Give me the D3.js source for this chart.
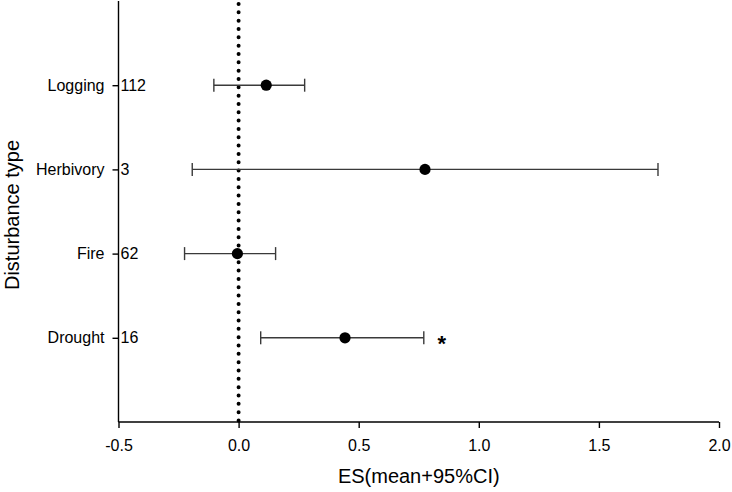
<!DOCTYPE html>
<html>
<head>
<meta charset="utf-8">
<script src="https://cdn.jsdelivr.net/npm/d3@7"></script>
<style>
    body { margin: 0; background: #fff; }
    .chart { width: 732px; height: 492px; }
    text { font-family: "Liberation Sans", Arial, sans-serif; fill: #000; }
</style>
</head>
<body>
<div class="chart"></div>
<script>
// disturbance types, top to bottom
let categories = ["Logging", "Herbivory", "Fire", "Drought"];
let counts = ["112", "3", "62", "16"];
let means = [0.115, 0.776, -0.005, 0.443];
let ciLow = [-0.103, -0.193, -0.225, 0.092];
let ciHigh = [0.275, 1.746, 0.154, 0.771];
let signif = ["", "", "", "*"];
let xTicks = [-0.5, 0.0, 0.5, 1.0, 1.5, 2.0];

let chart = {};

chart.data = categories.map((c, i) => {
    return {
        name: c,
        n: counts[i],
        mean: means[i],
        low: ciLow[i],
        high: ciHigh[i],
        sig: signif[i],
        pos: categories.length - i
    };
});

chart.margin = { left: 118.5, top: 1, right: 13, bottom: 70 };
chart.width = 732 - chart.margin.left - chart.margin.right;
chart.height = 492 - chart.margin.top - chart.margin.bottom;

chart.xScale = d3.scaleLinear()
    .domain([-0.5, 2.0])
    .range([0, 600.5]);

chart.yScale = d3.scaleLinear()
    .domain([0, 5])
    .range([chart.height, 0]);

chart.svg = d3.select(".chart").append("svg")
    .attr("width", 732)
    .attr("height", 492);

chart.plot = chart.svg.append("g")
    .attr("transform", `translate(${chart.margin.left},${chart.margin.top})`);

// zero reference line (dotted)
chart.plot.append("line")
    .attr("x1", chart.xScale(0)).attr("x2", chart.xScale(0))
    .attr("y1", 3).attr("y2", chart.height)
    .attr("stroke", "#000")
    .attr("stroke-width", 4)
    .attr("stroke-linecap", "round")
    .attr("stroke-dasharray", "0,8.33");

// x axis - plain hyphen for negatives, like the original
chart.xAxis = chart.plot.append("g")
    .attr("transform", `translate(0,${chart.height})`)
    .call(d3.axisBottom(chart.xScale)
        .tickValues(xTicks)
        .tickSize(6)
        .tickPadding(12)
        .tickFormat(d => d.toFixed(1)));

chart.xAxis.select(".domain").attr("d", `M0,0H${chart.xScale(2.0)}`);

// y axis
chart.yAxis = chart.plot.append("g")
    .call(d3.axisLeft(chart.yScale)
        .tickValues(chart.data.map(d => d.pos))
        .tickSize(6)
        .tickPadding(8)
        .tickFormat((d, i) => categories[i]));

chart.yAxis.select(".domain").attr("d", `M0,0V${chart.height}`);

chart.svg.selectAll(".domain, .tick line")
    .attr("stroke", "#000")
    .attr("stroke-width", 1.4);

chart.svg.selectAll(".tick text")
    .style("font-size", "16px")
    .style("font-family", "'Liberation Sans', Arial, sans-serif")
    .attr("fill", "#000");

// sample sizes next to the y axis
chart.plot.selectAll(".count")
    .data(chart.data)
    .enter()
    .append("text")
    .attr("class", "count")
    .attr("x", 2)
    .attr("y", d => chart.yScale(d.pos))
    .attr("dy", "0.35em")
    .style("font-size", "16px")
    .text(d => d.n);

// error bars
chart.bars = chart.plot.selectAll(".bar")
    .data(chart.data)
    .enter()
    .append("g")
    .attr("class", "bar")
    .attr("stroke", "#3a3a3a")
    .attr("stroke-width", 1.4);

chart.bars.append("line")
    .attr("x1", d => chart.xScale(d.low))
    .attr("x2", d => chart.xScale(d.high))
    .attr("y1", d => chart.yScale(d.pos))
    .attr("y2", d => chart.yScale(d.pos));

chart.bars.append("line")
    .attr("x1", d => chart.xScale(d.low))
    .attr("x2", d => chart.xScale(d.low))
    .attr("y1", d => chart.yScale(d.pos) - 6.5)
    .attr("y2", d => chart.yScale(d.pos) + 6.5);

chart.bars.append("line")
    .attr("x1", d => chart.xScale(d.high))
    .attr("x2", d => chart.xScale(d.high))
    .attr("y1", d => chart.yScale(d.pos) - 6.5)
    .attr("y2", d => chart.yScale(d.pos) + 6.5);

chart.plot.selectAll(".dot")
    .data(chart.data)
    .enter()
    .append("circle")
    .attr("class", "dot")
    .attr("cx", d => chart.xScale(d.mean))
    .attr("cy", d => chart.yScale(d.pos))
    .attr("r", 5.6)
    .attr("fill", "#000");

// significance marker
chart.plot.selectAll(".sig")
    .data(chart.data.filter(d => d.sig))
    .enter()
    .append("text")
    .attr("class", "sig")
    .attr("x", d => chart.xScale(d.high) + 18)
    .attr("y", d => chart.yScale(d.pos) + 13)
    .attr("text-anchor", "middle")
    .style("font-size", "22px")
    .style("font-weight", "bold")
    .text(d => d.sig);

// axis titles
chart.svg.append("text")
    .attr("x", chart.margin.left + chart.xScale(0.75))
    .attr("y", 483)
    .attr("text-anchor", "middle")
    .style("font-size", "20px")
    .text("ES(mean+95%CI)");

chart.svg.append("text")
    .attr("transform", `translate(19,215) rotate(-90)`)
    .attr("text-anchor", "middle")
    .style("font-size", "20px")
    .text("Disturbance type");
</script>
</body>
</html>
